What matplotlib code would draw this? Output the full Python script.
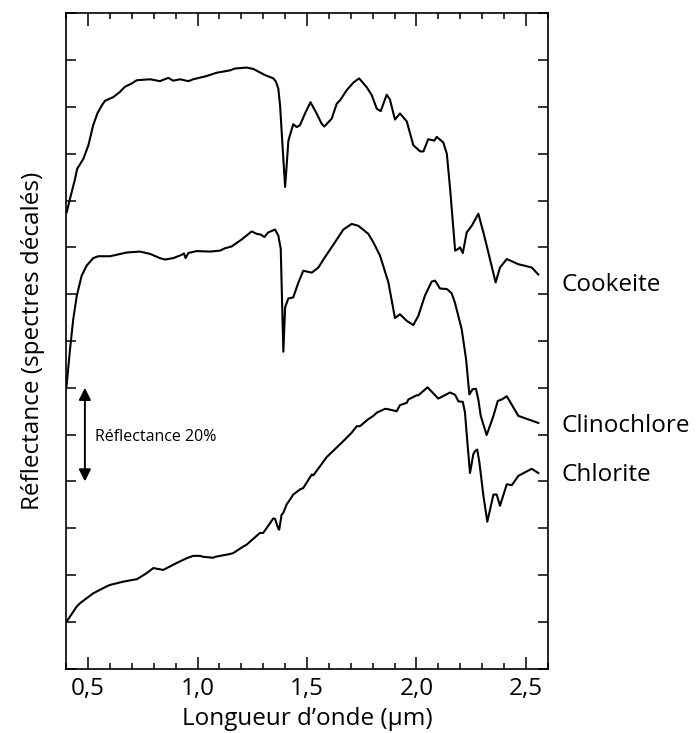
import matplotlib
matplotlib.use("Agg")
import matplotlib.pyplot as plt
from matplotlib.ticker import MultipleLocator, FuncFormatter

plt.rcParams['font.family'] = ['Open Sans', 'DejaVu Sans']

# ---- data (wavelength in µm, offset reflectance) ----
cook_x = [0.402, 0.417, 0.440, 0.450, 0.478, 0.501, 0.523, 0.542, 0.562, 0.577, 0.615, 0.645,
          0.668, 0.699, 0.722, 0.783, 0.828, 0.866, 0.889, 0.920, 0.958, 0.980, 1.042, 1.087,
          1.148, 1.171, 1.224, 1.255, 1.308, 1.346, 1.358, 1.369, 1.377, 1.389, 1.400, 1.406,
          1.415, 1.437, 1.453, 1.468, 1.491, 1.516, 1.544, 1.567, 1.579, 1.613, 1.636, 1.651,
          1.682, 1.712, 1.738, 1.773, 1.796, 1.819, 1.837, 1.864, 1.879, 1.902, 1.925, 1.956,
          1.986, 2.017, 2.032, 2.054, 2.082, 2.093, 2.123, 2.139, 2.154, 2.169, 2.177, 2.192,
          2.199, 2.212, 2.230, 2.253, 2.283, 2.306, 2.321, 2.362, 2.382, 2.413, 2.466, 2.527,
          2.557]
cook_y = [0.975, 1.004, 1.046, 1.068, 1.089, 1.118, 1.161, 1.186, 1.203, 1.213, 1.221, 1.232,
          1.243, 1.250, 1.257, 1.259, 1.255, 1.262, 1.256, 1.259, 1.255, 1.259, 1.266, 1.273,
          1.278, 1.282, 1.284, 1.281, 1.268, 1.261, 1.254, 1.239, 1.203, 1.111, 1.029, 1.068,
          1.128, 1.163, 1.157, 1.161, 1.186, 1.210, 1.186, 1.164, 1.158, 1.175, 1.207, 1.214,
          1.236, 1.252, 1.261, 1.242, 1.225, 1.196, 1.191, 1.226, 1.216, 1.173, 1.186, 1.169,
          1.118, 1.105, 1.105, 1.131, 1.128, 1.136, 1.124, 1.100, 1.025, 0.939, 0.893, 0.897,
          0.900, 0.888, 0.932, 0.946, 0.972, 0.932, 0.904, 0.825, 0.857, 0.875, 0.864, 0.857,
          0.842]

clino_x = [0.401, 0.417, 0.432, 0.448, 0.470, 0.493, 0.523, 0.546, 0.600, 0.676, 0.737, 0.783,
           0.828, 0.851, 0.889, 0.927, 0.938, 0.945, 0.958, 0.996, 1.057, 1.102, 1.125, 1.156,
           1.202, 1.247, 1.270, 1.290, 1.305, 1.323, 1.354, 1.369, 1.380, 1.387, 1.392, 1.400,
           1.415, 1.437, 1.460, 1.483, 1.522, 1.552, 1.582, 1.628, 1.666, 1.704, 1.735, 1.780,
           1.803, 1.834, 1.872, 1.902, 1.925, 1.956, 1.986, 2.009, 2.039, 2.070, 2.085, 2.108,
           2.139, 2.161, 2.176, 2.207, 2.227, 2.242, 2.257, 2.272, 2.283, 2.294, 2.321, 2.352,
           2.372, 2.390, 2.413, 2.466, 2.557]
clino_y = [0.603, 0.682, 0.747, 0.797, 0.839, 0.861, 0.877, 0.881, 0.881, 0.889, 0.891, 0.886,
           0.877, 0.874, 0.877, 0.884, 0.887, 0.877, 0.888, 0.892, 0.891, 0.893, 0.898, 0.902,
           0.917, 0.934, 0.929, 0.927, 0.922, 0.932, 0.938, 0.925, 0.897, 0.768, 0.677, 0.772,
           0.791, 0.793, 0.824, 0.850, 0.846, 0.857, 0.879, 0.911, 0.938, 0.950, 0.946, 0.929,
           0.911, 0.882, 0.825, 0.749, 0.757, 0.743, 0.734, 0.754, 0.797, 0.827, 0.829, 0.812,
           0.811, 0.802, 0.782, 0.725, 0.661, 0.586, 0.597, 0.598, 0.575, 0.540, 0.499, 0.540,
           0.572, 0.575, 0.582, 0.540, 0.525]

chlor_x = [0.402, 0.448, 0.463, 0.523, 0.585, 0.600, 0.661, 0.706, 0.722, 0.767, 0.798, 0.843,
           0.905, 0.950, 0.980, 1.011, 1.026, 1.072, 1.080, 1.148, 1.163, 1.209, 1.224, 1.285,
           1.300, 1.346, 1.354, 1.369, 1.373, 1.384, 1.392, 1.407, 1.422, 1.437, 1.468, 1.483,
           1.522, 1.529, 1.590, 1.659, 1.704, 1.727, 1.742, 1.780, 1.803, 1.819, 1.857, 1.864,
           1.910, 1.925, 1.956, 1.963, 2.001, 2.009, 2.051, 2.100, 2.154, 2.177, 2.192, 2.212,
           2.222, 2.233, 2.245, 2.260, 2.268, 2.278, 2.288, 2.306, 2.324, 2.352, 2.367, 2.382,
           2.413, 2.436, 2.466, 2.527, 2.557]
chlor_y = [0.101, 0.133, 0.140, 0.161, 0.176, 0.179, 0.186, 0.190, 0.191, 0.204, 0.215, 0.211,
           0.226, 0.236, 0.241, 0.241, 0.239, 0.237, 0.239, 0.245, 0.247, 0.261, 0.265, 0.290,
           0.290, 0.321, 0.320, 0.299, 0.297, 0.329, 0.333, 0.351, 0.361, 0.372, 0.383, 0.386,
           0.415, 0.413, 0.452, 0.483, 0.504, 0.518, 0.518, 0.533, 0.540, 0.547, 0.555, 0.555,
           0.550, 0.563, 0.568, 0.575, 0.584, 0.584, 0.601, 0.577, 0.590, 0.585, 0.571, 0.570,
           0.547, 0.483, 0.418, 0.458, 0.465, 0.468, 0.440, 0.370, 0.314, 0.372, 0.372, 0.348,
           0.394, 0.392, 0.412, 0.427, 0.418]

names = ["Cookeite", "Clinochlore", "Chlorite"]
name_y = [0.820, 0.518, 0.414]
xtick_vals = [0.5, 1.0, 1.5, 2.0, 2.5]

# ---- figure ----
fig = plt.figure(figsize=(6.97, 7.33), dpi=100)
ax = fig.add_axes([0.0951, 0.0877, 0.6907, 0.8942])

for xs, ys in [(cook_x, cook_y), (clino_x, clino_y), (chlor_x, chlor_y)]:
    ax.plot(xs, ys, color='black', lw=1.5)

ax.set_xlim(0.4, 2.6)
ax.set_ylim(0.0, 1.4)

ax.set_xticks(xtick_vals)
ax.xaxis.set_minor_locator(MultipleLocator(0.1))
ax.xaxis.set_major_formatter(FuncFormatter(lambda v, p: f"{v:.1f}".replace('.', ',')))
ax.yaxis.set_major_locator(MultipleLocator(0.1))
ax.yaxis.set_major_formatter(FuncFormatter(lambda v, p: ""))

ax.tick_params(axis='x', which='major', direction='in', length=9, width=1.1,
               top=True, bottom=True, labelsize=17.5, pad=6)
ax.tick_params(axis='x', which='minor', direction='in', length=4.3, width=1.1,
               top=True, bottom=True)
ax.tick_params(axis='y', which='major', direction='in', length=7, width=1.1,
               left=True, right=True)
for s in ax.spines.values():
    s.set_linewidth(1.2)

ax.set_xlabel("Longueur d\u2019onde (\u00b5m)", fontsize=17.5, labelpad=4)
ax.set_ylabel("Réflectance (spectres décalés)", fontsize=17.5, labelpad=12)

for n, yv in zip(names, name_y):
    ax.text(2.665, yv, n, fontsize=17.5, ha='left', va='center', clip_on=False)

ax.annotate("", xy=(0.485, 0.400), xytext=(0.485, 0.600),
            arrowprops=dict(arrowstyle='<|-|>', color='black', lw=1.4,
                            mutation_scale=18, shrinkA=0, shrinkB=0))
ax.text(0.531, 0.494, "Réflectance 20%", fontsize=11.5, ha='left', va='center')

fig.savefig("out.png", dpi=100)
